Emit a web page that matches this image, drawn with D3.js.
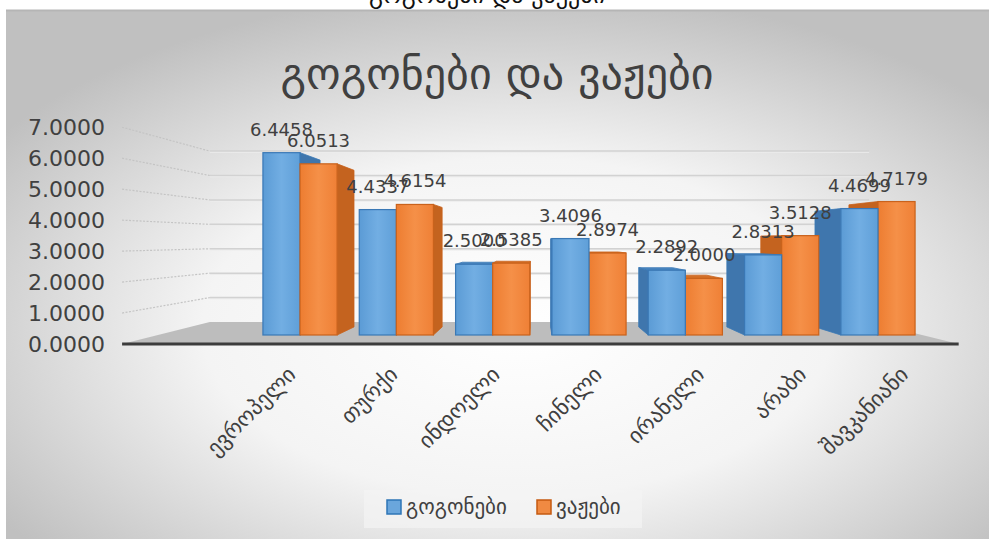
<!DOCTYPE html>
<html><head><meta charset="utf-8">
<script src="https://cdn.jsdelivr.net/npm/d3@7"></script>
<style>body{margin:0;background:#fff}svg{display:block}</style>
</head><body>
<script>
const categories = ["ევროპელი","თურქი","ინდოელი","ჩინელი","ირანელი","არაბი","შავკანიანი"];
const seriesNames = ["გოგონები","ვაჟები"];
const girls = [6.4458,4.4337,2.5000,3.4096,2.2892,2.8313,4.4699];
const boys  = [6.0513,4.6154,2.5385,2.8974,2.0000,3.5128,4.7179];
const yTicks = [0,1,2,3,4,5,6,7];
const title = "გოგონები და ვაჟები";

const W=989,H=539;
const svg=d3.select("body").append("svg").attr("width",W).attr("height",H);
const defs=svg.append("defs");
const rg=defs.append("radialGradient").attr("id","bg").attr("cx","52%").attr("cy","60%").attr("r","64%");
rg.append("stop").attr("offset","0%").attr("stop-color","#ffffff");
rg.append("stop").attr("offset","50%").attr("stop-color","#f4f4f4");
rg.append("stop").attr("offset","100%").attr("stop-color","#c0c0c0");
function lg(id,c1,c2,c3){const g=defs.append("linearGradient").attr("id",id).attr("x1","0").attr("x2","1").attr("y1","0").attr("y2","0");
 g.append("stop").attr("offset","0%").attr("stop-color",c1);g.append("stop").attr("offset","50%").attr("stop-color",c2);g.append("stop").attr("offset","100%").attr("stop-color",c3);}
lg("gB","#5b9bd5","#72aee3","#5f9fd8");
lg("gO","#ed7d31","#f59048","#ef8036");

// clipped heading above chart
svg.append("text").attr("x",487).attr("y",3).attr("text-anchor","middle")
 .attr("font-family","DejaVu Sans").attr("font-size",24).attr("fill","#111").text(title);

svg.append("rect").attr("x",6).attr("y",10).attr("width",W-6).attr("height",H-10).attr("fill","url(#bg)");
svg.append("line").attr("x1",6).attr("x2",W).attr("y1",10.5).attr("y2",10.5).attr("stroke","#b5b5b5").attr("stroke-width",2);

svg.append("text").attr("x",497).attr("y",89).attr("text-anchor","middle")
 .attr("font-family","DejaVu Sans").attr("font-size",44).attr("fill","#404040").text(title);

// scales (front plane of bars)
const y=d3.scaleLinear().domain([0,7]).range([335,137]);
const x=d3.scaleBand().domain(categories).range([251.85,926.15]).paddingInner(0.23).paddingOuter(0.115);
const xs=d3.scaleBand().domain(seriesNames).range([0,x.bandwidth()]);
const V={x:536,y:240};
const proj=(px,py,s)=>[V.x+s*(px-V.x),V.y+s*(py-V.y)];
const sBack=0.915, sWall=0.863, sFront=1.095;
const xL=158,xR=922;

// floor
const fl=[proj(xL,y(0),sFront),proj(xL,y(0),sWall),proj(xR,y(0),sWall),proj(xR,y(0),sFront)];
svg.append("polygon").attr("points",fl.map(p=>p.join(",")).join(" ")).attr("fill","#bdbdbd");
svg.append("line").attr("x1",fl[0][0]).attr("x2",fl[3][0]).attr("y1",fl[0][1]).attr("y2",fl[3][1])
 .attr("stroke","#3c3c3c").attr("stroke-width",3);

// gridlines
yTicks.filter(v=>v>0).forEach(v=>{
 const a=proj(xL,y(v),sFront),b=proj(xL,y(v),sWall),c=proj(xR,y(v),sWall);
 svg.append("line").attr("x1",a[0]).attr("y1",a[1]).attr("x2",b[0]).attr("y2",b[1])
  .attr("stroke","#c4c4c4").attr("stroke-width",1.2).attr("stroke-dasharray","2,1.5");
 svg.append("line").attr("x1",b[0]).attr("y1",b[1]+1).attr("x2",c[0]).attr("y2",c[1]+1).attr("stroke","#ececec").attr("stroke-width",1.5);
 svg.append("line").attr("x1",b[0]).attr("y1",b[1]).attr("x2",c[0]).attr("y2",c[1]).attr("stroke","#d2d2d2").attr("stroke-width",1.5);
});
// y axis labels
const fmt=d3.format(".4f");
svg.append("g").selectAll("text").data(yTicks).join("text")
 .attr("x",105).attr("y",d=>proj(xL,y(d),sFront)[1]+2).attr("text-anchor","end").attr("dominant-baseline","middle")
 .attr("font-family","DejaVu Sans").attr("font-size",22).attr("fill","#404040").text(d=>fmt(d));

// bars
const bars=[];
categories.forEach((c,i)=>{
 [girls[i],boys[i]].forEach((v,j)=>{
  const x0=x(c)+xs(seriesNames[j]), x1=x0+xs.bandwidth();
  bars.push({c,i,j,v,x0,x1,yt:y(v),yb:y(0)});
 });
});
bars.sort((a,b)=>Math.abs((b.x0+b.x1)/2-V.x)-Math.abs((a.x0+a.x1)/2-V.x));
const col=[{front:"url(#gB)",side:"#3f76ad",top:"#4a86c0",stroke:"#3a78b5"},{front:"url(#gO)",side:"#c4631f",top:"#d46f27",stroke:"#c9621c"}];
const gb=svg.append("g");
bars.forEach(b=>{
 const C=col[b.j], g=gb.append("g");
 const P=(px,py)=>proj(px,py,sBack);
 if(b.x1<V.x){
  const pts=[[b.x1,b.yt],P(b.x1,b.yt),P(b.x1,b.yb),[b.x1,b.yb]];
  g.append("polygon").attr("points",pts.map(p=>p.join(",")).join(" ")).attr("fill",C.side).attr("stroke",C.stroke).attr("stroke-width",0.8);
 } else if(b.x0>V.x){
  const pts=[[b.x0,b.yt],P(b.x0,b.yt),P(b.x0,b.yb),[b.x0,b.yb]];
  g.append("polygon").attr("points",pts.map(p=>p.join(",")).join(" ")).attr("fill",C.side).attr("stroke",C.stroke).attr("stroke-width",0.8);
 }
 if(b.yt>V.y){
  const pts=[[b.x0,b.yt],[b.x1,b.yt],P(b.x1,b.yt),P(b.x0,b.yt)];
  g.append("polygon").attr("points",pts.map(p=>p.join(",")).join(" ")).attr("fill",C.top).attr("stroke",C.stroke).attr("stroke-width",0.8);
 }
 g.append("rect").attr("x",b.x0).attr("y",b.yt).attr("width",b.x1-b.x0).attr("height",b.yb-b.yt)
  .attr("fill",C.front).attr("stroke",C.stroke).attr("stroke-width",1.2);
});
// data labels
const lbl=svg.append("g");
categories.forEach((c,i)=>{
 [girls[i],boys[i]].forEach((v,j)=>{
  const cx=x(c)+xs(seriesNames[j])+xs.bandwidth()/2;
  lbl.append("text").attr("x",cx).attr("y",y(v)-17).attr("text-anchor","middle")
   .attr("font-family","DejaVu Sans").attr("font-size",18).attr("fill","#404040").text(fmt(v));
 });
});
// category labels
svg.append("g").selectAll("text").data(categories).join("text")
 .attr("transform",d=>{const cx=x(d)+x.bandwidth()/2;const ax=cx+(cx-500)*0.06+9;return `translate(${ax},376) rotate(-45)`;})
 .attr("text-anchor","end").attr("font-family","DejaVu Sans").attr("font-size",22).attr("fill","#404040").text(d=>d);

// legend
const lgG=svg.append("g");
lgG.append("rect").attr("x",364).attr("y",490).attr("width",278).attr("height",38).attr("fill","#f4f4f4").attr("opacity",0.7);
const li=[{x:387,tx:406},{x:537,tx:556}];
seriesNames.forEach((s,j)=>{
 lgG.append("rect").attr("x",li[j].x).attr("y",500).attr("width",14).attr("height",14).attr("fill",j?"#f08a42":"#6aa6dc").attr("stroke",j?"#c55a11":"#2e75b6").attr("stroke-width",1.5);
 lgG.append("text").attr("x",li[j].tx).attr("y",514).attr("font-family","DejaVu Sans").attr("font-size",21).attr("fill","#404040").text(s);
});
</script>
</body></html>
